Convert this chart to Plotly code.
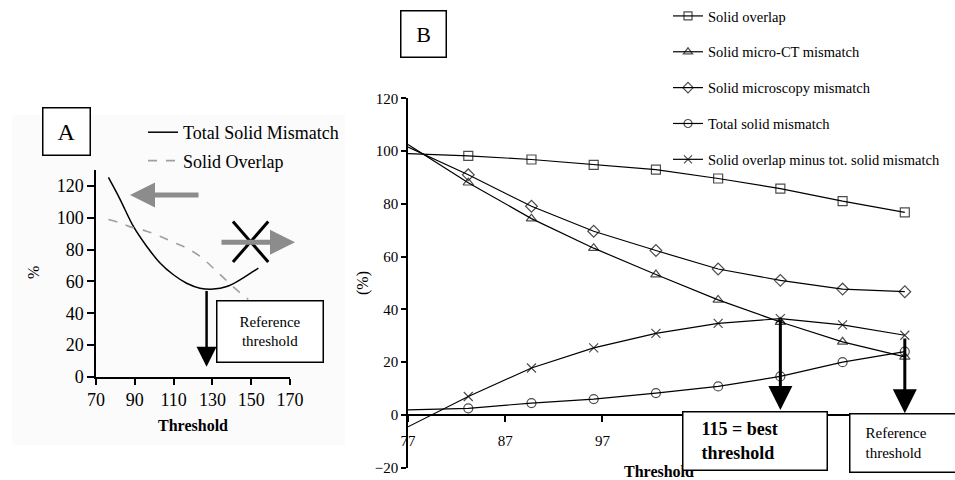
import plotly.graph_objects as go

W, H = 955, 480
SERIF = "Liberation Serif, Times New Roman, serif"

# ---------------- Panel A data ----------------
thr_a_total = [76.4, 82.4, 89.2, 96.1, 103.0, 109.9, 116.7, 123.6, 130.5, 137.4, 144.2, 151.1, 153.7]
total_a = [125.3, 111.6, 94.7, 82.1, 71.6, 64.2, 58.9, 55.8, 55.2, 56.8, 61.0, 66.3, 68.4]
thr_a_overlap = [76.4, 82.4, 89.2, 96.1, 103.0, 109.9, 116.7, 123.6, 130.5, 137.4, 144.2, 148.5]
overlap_a = [98.9, 96.8, 93.7, 91.6, 88.4, 84.6, 81.0, 75.8, 68.4, 60.4, 53.0, 48.8]
ref_threshold_a = 127.0

# ---------------- Panel B data ----------------
thresholds_b = [77, 83.2, 89.7, 96.1, 102.5, 108.9, 115.3, 121.7, 128.1]
solid_overlap = [99.0, 98.2, 96.8, 94.8, 93.0, 89.6, 85.8, 81.0, 76.8]
micro_ct_mismatch = [102.5, 88.0, 74.4, 63.2, 53.2, 43.6, 35.2, 27.7, 22.0]
microscopy_mismatch = [101.5, 91.0, 79.1, 69.6, 62.3, 55.3, 51.0, 47.7, 46.7]
total_mismatch = [1.9, 2.5, 4.5, 6.0, 8.3, 10.8, 14.6, 20.0, 24.0]
overlap_minus_total = [-4.5, 7.0, 17.8, 25.4, 30.9, 34.7, 36.5, 34.1, 30.2]
series_names_b = ["Solid overlap", "Solid micro-CT mismatch", "Solid microscopy mismatch",
                  "Total solid mismatch", "Solid overlap minus tot. solid mismatch"]
x_tick_labels_b = [77, 87, 97]   # the later ticks are hidden behind the boxes
best_threshold = 115.3
reference_threshold_b = 128.1


def px(x):
    return x / W


def py(y):
    return 1 - y / H


fig = go.Figure()

# ---- Panel A traces ----
fig.add_trace(go.Scatter(x=thr_a_total, y=total_a, mode="lines", name="Total Solid Mismatch",
                         line=dict(color="black", width=1.5, shape="spline"),
                         xaxis="x", yaxis="y", legend="legend2", legendgroup="a1"))
fig.add_trace(go.Scatter(x=thr_a_overlap, y=overlap_a, mode="lines", name="Solid Overlap",
                         line=dict(color="#a0a0a0", width=1.6, dash="dash", shape="spline"),
                         xaxis="x", yaxis="y", legend="legend2", legendgroup="a2"))

# ---- Panel B traces ----
symbols = ["square-open", "triangle-up-open", "diamond-open", "circle-open", "x-thin-open"]
series_b = [solid_overlap, micro_ct_mismatch, microscopy_mismatch, total_mismatch, overlap_minus_total]
sizes = [0] + [9] * (len(thresholds_b) - 1)
for i, (name, vals, sym) in enumerate(zip(series_names_b, series_b, symbols)):
    fig.add_trace(go.Scatter(
        x=thresholds_b, y=vals, mode="lines+markers", name=name,
        line=dict(color="black", width=1.2),
        marker=dict(symbol=sym, size=sizes, color="black",
                    line=dict(color="black", width=1.2)),
        xaxis="x2", yaxis="y2", legend="legend", legendgroup=f"g{i}"))

axis_common = dict(showgrid=False, zeroline=False, showline=True, linecolor="black",
                   linewidth=1.5, ticks="outside", tickcolor="black", tickwidth=1.5,
                   automargin=True)

fig.update_layout(
    template="none",
    width=W, height=H, autosize=False,
    margin=dict(l=0, r=0, t=0, b=0, autoexpand=False),
    paper_bgcolor="white", plot_bgcolor="rgba(0,0,0,0)",
    font=dict(family=SERIF, color="black"),
    xaxis=dict(domain=[px(96), px(290)], range=[70, 170], tick0=70, dtick=20,
               anchor="y", ticklen=6,
               tickfont=dict(family=SERIF, size=18, color="black"),
               title=dict(text="<b>Threshold</b>", font=dict(family=SERIF, size=16), standoff=10),
               **axis_common),
    yaxis=dict(domain=[py(377), py(170)], range=[0, 130], tick0=0, dtick=20,
               anchor="x", ticklen=7,
               tickfont=dict(family=SERIF, size=18, color="black"),
               **axis_common),
    xaxis2=dict(domain=[px(408), px(933)], range=[77, 131], tickmode="array",
                tickvals=x_tick_labels_b, ticktext=[str(v) for v in x_tick_labels_b],
                anchor="free", position=py(415), ticklen=6, ticklabelstandoff=6,
                tickfont=dict(family=SERIF, size=15, color="black"),
                **axis_common),
    yaxis2=dict(domain=[py(467.7), py(98.3)], range=[-20, 120], tick0=-20, dtick=20,
                anchor="x2", ticklen=5,
                tickfont=dict(family=SERIF, size=15, color="black"),
                title=dict(text="(%)", font=dict(family=SERIF, size=16), standoff=2),
                **axis_common),
    legend=dict(xref="container", yref="container", x=px(668), y=py(-6),
                xanchor="left", yanchor="top",
                font=dict(family=SERIF, size=14.5, color="black"),
                bgcolor="rgba(0,0,0,0)", tracegroupgap=14, itemwidth=30),
    legend2=dict(xref="container", yref="container", x=px(143), y=py(114),
                 xanchor="left", yanchor="top",
                 font=dict(family=SERIF, size=18, color="black"),
                 bgcolor="rgba(0,0,0,0)", tracegroupgap=2, itemwidth=30),
    showlegend=True,
)

# faint background of panel A
fig.add_shape(type="rect", xref="paper", yref="paper", x0=px(12), x1=px(345), y0=py(445), y1=py(115),
              fillcolor="#fbfbfb", line=dict(width=0), layer="below")

ann = []
# y-axis title of panel A
ann.append(dict(text="%", xref="paper", yref="paper", x=px(33), y=py(273), xanchor="center",
                yanchor="middle", showarrow=False, textangle=-90,
                font=dict(family=SERIF, size=16)))
# x-axis title of panel B (partly hidden behind the box, drawn first)
ann.append(dict(text="<b>Threshold</b>", xref="paper", yref="paper", x=px(659), y=py(471),
                xanchor="center", yanchor="middle", showarrow=False,
                font=dict(family=SERIF, size=16)))
# panel letter boxes
ann.append(dict(text="A", xref="paper", yref="paper", x=px(66), y=py(131), xanchor="center",
                yanchor="middle", showarrow=False,
                font=dict(family=SERIF, size=24), bordercolor="black", borderwidth=1.5,
                borderpad=0, width=46, height=46, bgcolor="white"))
ann.append(dict(text="B", xref="paper", yref="paper", x=px(423.7), y=py(33.7), xanchor="center",
                yanchor="middle", showarrow=False,
                font=dict(family=SERIF, size=22), bordercolor="black", borderwidth=1.5,
                borderpad=0, width=44, height=45, bgcolor="white"))
# grey arrows panel A
ann.append(dict(text="", xref="paper", yref="paper", x=px(130), y=py(195), ax=70, ay=0,
                showarrow=True, arrowhead=2, arrowsize=1, arrowwidth=5, arrowcolor="#8c8c8c"))
ann.append(dict(text="", xref="paper", yref="paper", x=px(295), y=py(242.3), ax=-75, ay=0,
                showarrow=True, arrowhead=2, arrowsize=1, arrowwidth=5, arrowcolor="#8c8c8c"))
# reference arrow panel A
ann.append(dict(text="", xref="x", yref="y", x=ref_threshold_a, y=6.5, axref="x", ayref="y",
                ax=ref_threshold_a, ay=55, showarrow=True, arrowhead=2, arrowsize=1.6,
                arrowwidth=2.5, arrowcolor="black"))
ann.append(dict(text="Reference<br>threshold", xref="paper", yref="paper", x=px(269.5), y=py(331),
                xanchor="center", yanchor="middle",
                showarrow=False, font=dict(family=SERIF, size=15), align="center",
                bordercolor="black", borderwidth=1.5, borderpad=0, width=105, height=60,
                bgcolor="white"))
# panel B arrows
ann.append(dict(text="", xref="x2", yref="y2", x=best_threshold, y=1.9, axref="x2", ayref="y2",
                ax=best_threshold, ay=36.5, showarrow=True, arrowhead=2, arrowsize=1.6,
                arrowwidth=3, arrowcolor="black"))
ann.append(dict(text="", xref="x2", yref="y2", x=reference_threshold_b, y=0.6, axref="x2", ayref="y2",
                ax=reference_threshold_b, ay=29.5, showarrow=True, arrowhead=2, arrowsize=1.6,
                arrowwidth=3, arrowcolor="black"))
ann.append(dict(text="<b>&nbsp;&nbsp;&nbsp;&nbsp;115 = best<br>&nbsp;&nbsp;&nbsp;&nbsp;threshold</b>",
                xref="paper", yref="paper",
                x=px(755.2), y=py(440.5), xanchor="center", yanchor="middle",
                showarrow=False, font=dict(family=SERIF, size=18),
                align="left", bordercolor="black", borderwidth=1.5, borderpad=0,
                width=143, height=57, bgcolor="white"))
ann.append(dict(text="&nbsp;&nbsp;&nbsp;&nbsp;Reference<br>&nbsp;&nbsp;&nbsp;&nbsp;threshold",
                xref="paper", yref="paper",
                x=px(908), y=py(442.5), xanchor="center", yanchor="middle", showarrow=False,
                font=dict(family=SERIF, size=15), align="left",
                bordercolor="black", borderwidth=1.5, borderpad=0,
                width=115, height=57, bgcolor="white"))
fig.update_layout(annotations=ann)

# crossed-out mark over the right-pointing grey arrow (panel A)
fig.add_shape(type="line", xref="x", yref="y", x0=140.6, x1=158.8, y0=97.7, y1=72.2,
              line=dict(color="black", width=3), layer="above")
fig.add_shape(type="line", xref="x", yref="y", x0=140.6, x1=158.8, y0=72.2, y1=97.7,
              line=dict(color="black", width=3), layer="above")

fig.write_html("out.html")
